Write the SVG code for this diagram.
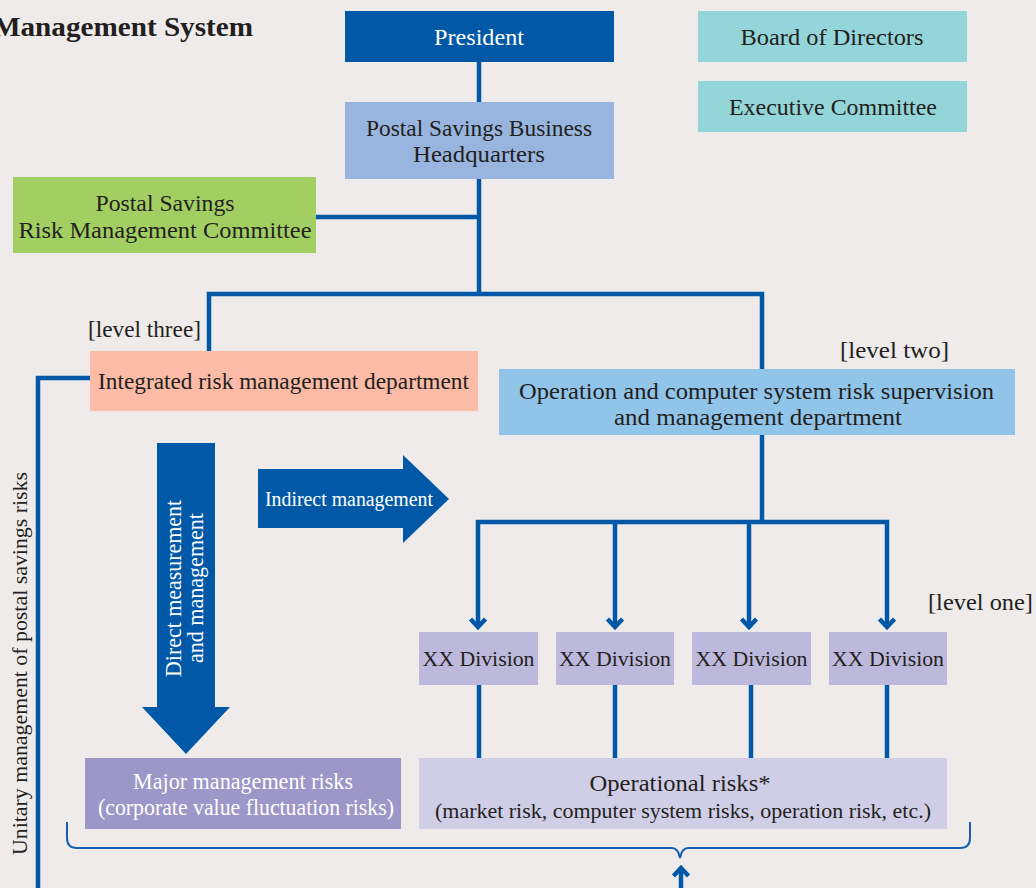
<svg xmlns="http://www.w3.org/2000/svg" width="1036" height="888" viewBox="0 0 1036 888">
  <style>
    .t { font-family: "Liberation Serif", "Times New Roman", serif; font-size: 23px; fill: #231f20; text-anchor: middle; }
    .w { fill: #ffffff; }
    .s { font-size: 21px; }
    .title { font-family: "Liberation Serif", "Times New Roman", serif; font-size: 28px; font-weight: bold; fill: #231f20; text-anchor: end; }
    .conn { fill: none; stroke: #0058a7; stroke-width: 4.5; stroke-linecap: butt; stroke-linejoin: miter; }
    .chev { fill: none; stroke: #0058a7; stroke-width: 4.5; stroke-linejoin: miter; }
    .brace { fill: none; stroke: #1560ad; stroke-width: 2; }
    .bigarrow { fill: #0058a7; }
  </style>
  <defs>
    <!-- downward chevron arrowhead, tip at (0,0) -->
    <path id="chevDown" class="chev" d="M-7.5,-10 L0,-2 L7.5,-10"/>
  </defs>

  <rect x="0" y="0" width="1036" height="888" fill="#eeebea"/>

  <text class="title" x="253" y="36" textLength="260" lengthAdjust="spacingAndGlyphs">Management System</text>

  <!-- connectors -->
  <g id="connectors">
    <path class="conn" d="M479,62 V102"/>
    <path class="conn" d="M479,179 V294"/>
    <path class="conn" d="M316,217 H479"/>
    <path class="conn" d="M209,351 V294 H762 V369"/>
    <path class="conn" d="M90,378 H38 V888"/>
    <path class="conn" d="M762,435 V522"/>
    <path class="conn" d="M478,627 V522 H887 V627"/>
    <path class="conn" d="M615,522 V627"/>
    <path class="conn" d="M749,522 V627"/>
    <use href="#chevDown" x="478" y="629"/>
    <use href="#chevDown" x="615" y="629"/>
    <use href="#chevDown" x="749" y="629"/>
    <use href="#chevDown" x="887" y="629"/>
    <path class="conn" d="M479,685 V758"/>
    <path class="conn" d="M615,685 V758"/>
    <path class="conn" d="M751,685 V758"/>
    <path class="conn" d="M887,685 V758"/>
    <!-- bracket gathering both risk groups -->
    <path class="brace" d="M67,822 V838 Q67,848 77,848 H672 Q678,848 680,858 Q682,848 688,848 H960 Q970,848 970,838 V822"/>
    <path class="conn" d="M681,888 V868"/>
    <use href="#chevDown" transform="translate(681,866) rotate(180)"/>
  </g>

  <g id="president">
    <rect x="345" y="11" width="269" height="51" fill="#0058a7"/>
    <text class="t w" x="479" y="45" textLength="90" lengthAdjust="spacingAndGlyphs">President</text>
  </g>

  <g id="headquarters">
    <rect x="345" y="102" width="269" height="77" fill="#97b5df"/>
    <text class="t" x="479" y="136" textLength="226" lengthAdjust="spacingAndGlyphs">Postal Savings Business</text>
    <text class="t" x="479" y="162" textLength="132" lengthAdjust="spacingAndGlyphs">Headquarters</text>
  </g>

  <g id="board">
    <rect x="698" y="11" width="269" height="51" fill="#94d5da"/>
    <text class="t" x="832" y="45" textLength="183" lengthAdjust="spacingAndGlyphs">Board of Directors</text>
  </g>

  <g id="executive">
    <rect x="698" y="81" width="269" height="51" fill="#94d5da"/>
    <text class="t" x="833" y="115" textLength="208" lengthAdjust="spacingAndGlyphs">Executive Committee</text>
  </g>

  <g id="risk-committee">
    <rect x="13" y="177" width="303" height="76" fill="#a3cf62"/>
    <text class="t" x="165" y="211" textLength="139" lengthAdjust="spacingAndGlyphs">Postal Savings</text>
    <text class="t" x="165" y="238" textLength="293" lengthAdjust="spacingAndGlyphs">Risk Management Committee</text>
  </g>

  <g id="integrated">
    <text class="t" x="144.5" y="337" textLength="113" lengthAdjust="spacingAndGlyphs">[level three]</text>
    <rect x="90" y="351" width="388" height="60" fill="#fbbba6"/>
    <text class="t" x="283.5" y="389" textLength="371" lengthAdjust="spacingAndGlyphs">Integrated risk management department</text>
  </g>

  <g id="supervision">
    <text class="t" x="894.5" y="358" textLength="109" lengthAdjust="spacingAndGlyphs">[level two]</text>
    <rect x="499" y="369" width="516" height="66" fill="#91c4e9"/>
    <text class="t" x="756.5" y="399" textLength="475" lengthAdjust="spacingAndGlyphs">Operation and computer system risk supervision</text>
    <text class="t" x="758" y="425" textLength="288" lengthAdjust="spacingAndGlyphs">and management department</text>
  </g>

  <g id="direct-arrow">
    <path class="bigarrow" d="M157,443 H215 V707 H230 L186,754 L142,707 H157 Z"/>
    <text class="t w" transform="translate(181,588.5) rotate(-90)" x="0" y="0" textLength="177" lengthAdjust="spacingAndGlyphs">Direct measurement</text>
    <text class="t w" transform="translate(203,588) rotate(-90)" x="0" y="0" textLength="150" lengthAdjust="spacingAndGlyphs">and management</text>
  </g>

  <g id="indirect-arrow">
    <path class="bigarrow" d="M258,469 H403 V455 L449,499 L403,543 V528 H258 Z"/>
    <text class="t w" x="349" y="506" style="font-size:20px" textLength="168" lengthAdjust="spacingAndGlyphs">Indirect management</text>
  </g>

  <text class="t" x="980.5" y="610" textLength="105" lengthAdjust="spacingAndGlyphs">[level one]</text>

  <g id="division-1">
    <rect x="419" y="632" width="119" height="53" fill="#bdb9dd"/>
    <text class="t" x="478.5" y="666" style="font-size:22px" textLength="112" lengthAdjust="spacingAndGlyphs">XX Division</text>
  </g>
  <g id="division-2">
    <rect x="556" y="632" width="118" height="53" fill="#bdb9dd"/>
    <text class="t" x="615" y="666" style="font-size:22px" textLength="112" lengthAdjust="spacingAndGlyphs">XX Division</text>
  </g>
  <g id="division-3">
    <rect x="692" y="632" width="119" height="53" fill="#bdb9dd"/>
    <text class="t" x="751.5" y="666" style="font-size:22px" textLength="112" lengthAdjust="spacingAndGlyphs">XX Division</text>
  </g>
  <g id="division-4">
    <rect x="829" y="632" width="118" height="53" fill="#bdb9dd"/>
    <text class="t" x="888" y="666" style="font-size:22px" textLength="112" lengthAdjust="spacingAndGlyphs">XX Division</text>
  </g>

  <g id="major-risks">
    <rect x="85" y="758" width="316" height="71" fill="#9d96c9"/>
    <text class="t w" x="243" y="789" textLength="220" lengthAdjust="spacingAndGlyphs">Major management risks</text>
    <text class="t w" x="246" y="815" textLength="296" lengthAdjust="spacingAndGlyphs">(corporate value fluctuation risks)</text>
  </g>

  <g id="operational-risks">
    <rect x="419" y="758" width="528" height="71" fill="#d0cde6"/>
    <text class="t" x="680" y="791" textLength="181" lengthAdjust="spacingAndGlyphs">Operational risks*</text>
    <text class="t s" x="683" y="818" textLength="496" lengthAdjust="spacingAndGlyphs">(market risk, computer system risks, operation risk, etc.)</text>
  </g>

  <g id="unitary-label">
    <text class="t" transform="translate(27,663.5) rotate(-90)" x="0" y="0" style="font-size:22px" textLength="383" lengthAdjust="spacingAndGlyphs">Unitary management of postal savings risks</text>
  </g>
</svg>
